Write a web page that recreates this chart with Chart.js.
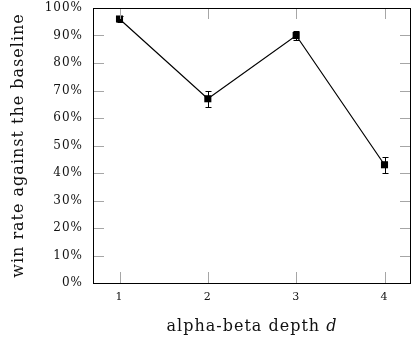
<!DOCTYPE html>
<html>
<head>
<meta charset="utf-8">
<script src="https://cdn.jsdelivr.net/npm/chart.js@4.4.0/dist/chart.umd.min.js"></script>
<style>
  html, body { margin: 0; padding: 0; background: #fff; }
  #wrap { width: 412px; height: 339px; position: relative; }
</style>
</head>
<body>
<div id="wrap"><canvas id="depthChart"></canvas></div>
<script>
// alpha-beta search depth vs. win rate (percent) with error margins
var depths = [1, 2, 3, 4];
var winRate = [96, 67, 90, 43];
var winErr = [1.0, 2.9, 1.5, 3.0];
var yTickValues = [0, 10, 20, 30, 40, 50, 60, 70, 80, 90, 100];

var serif = "'DejaVu Serif', 'Liberation Serif', serif";

// frame, inward ticks, error bars and axis titles
var framePlugin = {
    id: 'frame',
    beforeDraw: function (chart) {
        chart.ctx.letterSpacing = '1px';
    },
    beforeDatasetsDraw: function (chart) {
        var ctx = chart.ctx;
        var xs = chart.scales.x, ys = chart.scales.y;
        ctx.save();
        ctx.strokeStyle = '#000';
        ctx.lineWidth = 1;
        for (var i = 0; i < depths.length; i++) {
            var px = Math.round(xs.getPixelForValue(depths[i])) + 0.5;
            var top = Math.round(ys.getPixelForValue(winRate[i] + winErr[i])) + 0.5;
            var bot = Math.round(ys.getPixelForValue(winRate[i] - winErr[i])) + 0.5;
            ctx.beginPath();
            ctx.moveTo(px, top); ctx.lineTo(px, bot);
            ctx.moveTo(px - 3, top); ctx.lineTo(px + 3, top);
            ctx.moveTo(px - 3, bot); ctx.lineTo(px + 3, bot);
            ctx.stroke();
        }
        ctx.restore();
    },
    afterDraw: function (chart) {
        var ctx = chart.ctx;
        var a = chart.chartArea;
        var xs = chart.scales.x, ys = chart.scales.y;
        var tl = 11;
        ctx.save();
        ctx.strokeStyle = '#a6a6a6';
        ctx.lineWidth = 1;
        ctx.beginPath();
        yTickValues.forEach(function (v) {
            var py = Math.round(ys.getPixelForValue(v)) + 0.5;
            ctx.moveTo(a.left, py); ctx.lineTo(a.left + tl, py);
            ctx.moveTo(a.right, py); ctx.lineTo(a.right - tl, py);
        });
        depths.forEach(function (v) {
            var px = Math.round(xs.getPixelForValue(v)) + 0.5;
            ctx.moveTo(px, a.bottom); ctx.lineTo(px, a.bottom - tl);
            ctx.moveTo(px, a.top); ctx.lineTo(px, a.top + tl);
        });
        ctx.stroke();

        ctx.strokeStyle = '#000';
        ctx.strokeRect(Math.round(a.left) + 0.5, Math.round(a.top) + 0.5,
            Math.round(a.right - a.left) - 1, Math.round(a.bottom - a.top));

        // axis titles
        ctx.fillStyle = '#111';
        ctx.letterSpacing = '1px';
        ctx.textBaseline = 'alphabetic';
        var main = 'alpha-beta depth ';
        ctx.font = '16px ' + serif;
        var w1 = ctx.measureText(main).width;
        ctx.font = 'italic 16px ' + serif;
        var w2 = ctx.measureText('d').width;
        var x0 = (a.left + a.right) / 2 - (w1 + w2) / 2;
        ctx.textAlign = 'left';
        ctx.font = '16px ' + serif;
        ctx.fillText(main, x0, 331);
        ctx.font = 'italic 16px ' + serif;
        ctx.fillText('d', x0 + w1, 331);

        ctx.translate(23, (a.top + a.bottom) / 2);
        ctx.rotate(-Math.PI / 2);
        ctx.textAlign = 'center';
        ctx.font = '16px ' + serif;
        ctx.fillText('win rate against the baseline', 0, 0);
        ctx.restore();
    }
};

var points = depths.map(function (d, i) { return { x: d, y: winRate[i] }; });

new Chart(document.getElementById('depthChart'), {
    type: 'line',
    data: {
        datasets: [{
            data: points,
            borderColor: '#000',
            borderWidth: 1.2,
            backgroundColor: '#000',
            pointStyle: 'rect',
            pointRadius: 5,
            pointBorderWidth: 0,
            tension: 0,
            clip: false
        }]
    },
    options: {
        responsive: true,
        maintainAspectRatio: false,
        animation: false,
        layout: { autoPadding: false, padding: { left: 0, right: 1, top: 8, bottom: 0 } },
        plugins: { legend: { display: false }, tooltip: { enabled: false } },
        scales: {
            x: {
                type: 'linear',
                min: 0.7,
                max: 4.3,
                afterBuildTicks: function (scale) {
                    scale.ticks = depths.map(function (v) { return { value: v }; });
                },
                afterFit: function (scale) {
                    scale.height = 56;
                    scale.paddingLeft = 0;
                    scale.paddingRight = 0;
                },
                grid: { display: false, drawTicks: false },
                border: { display: false },
                ticks: {
                    padding: 8,
                    color: '#111',
                    font: { family: serif, size: 11 },
                    callback: function (v) { return String(v); }
                }
            },
            y: {
                min: 0,
                max: 100,
                afterBuildTicks: function (scale) {
                    scale.ticks = yTickValues.map(function (v) { return { value: v }; });
                },
                afterFit: function (scale) {
                    scale.width = 93;
                    scale.paddingTop = 0;
                    scale.paddingBottom = 0;
                },
                grid: { display: false, drawTicks: false },
                border: { display: false },
                ticks: {
                    padding: 10,
                    color: '#111',
                    font: { family: serif, size: 12 },
                    callback: function (v) { return v + '%'; }
                }
            }
        }
    },
    plugins: [framePlugin]
});
</script>
</body>
</html>
